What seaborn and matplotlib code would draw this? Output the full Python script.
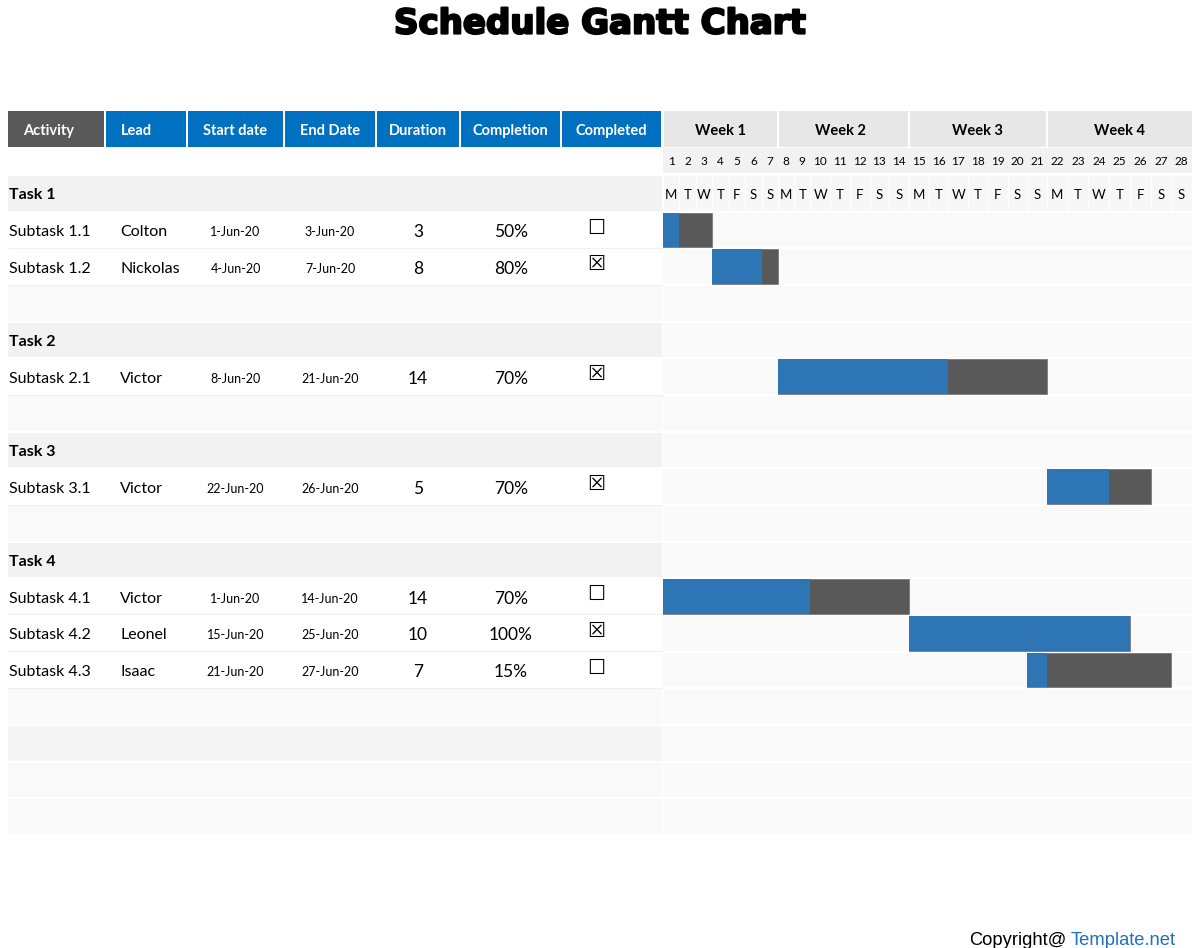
import numpy as np
import pandas as pd
import matplotlib
matplotlib.use("Agg")
import matplotlib.pyplot as plt
import matplotlib.patheffects as pe
from matplotlib.patches import Rectangle
import seaborn as sns

# ---------------- data ----------------
title = "Schedule Gantt Chart"
headers = ["Activity", "Lead", "Start date", "End Date", "Duration", "Completion", "Completed"]
week_labels = ["Week 1", "Week 2", "Week 3", "Week 4"]
day_numbers = list(range(1, 29))
day_letters = ["M", "T", "W", "T", "F", "S", "S"] * 4
task_names = ["Task 1", "Task 2", "Task 3", "Task 4"]
subtask_parent = [0, 0, 1, 2, 3, 3, 3]
subtask_names = ["Subtask 1.1", "Subtask 1.2", "Subtask 2.1", "Subtask 3.1",
                 "Subtask 4.1", "Subtask 4.2", "Subtask 4.3"]
leads = ["Colton", "Nickolas", "Victor", "Victor", "Victor", "Leonel", "Isaac"]
start_dates = ["1-Jun-20", "4-Jun-20", "8-Jun-20", "22-Jun-20", "1-Jun-20", "15-Jun-20", "21-Jun-20"]
end_dates = ["3-Jun-20", "7-Jun-20", "21-Jun-20", "26-Jun-20", "14-Jun-20", "25-Jun-20", "27-Jun-20"]
start_day = [1, 4, 8, 22, 1, 15, 21]
end_day = [3, 7, 21, 26, 14, 25, 27]
durations = [3, 8, 14, 5, 14, 10, 7]
completion_pct = [50, 80, 70, 70, 70, 100, 15]
completed = [False, True, True, True, False, True, False]
days_done = [1, 3, 9, 3, 9, 11, 1]

df = pd.DataFrame({
    "name": subtask_names, "parent": subtask_parent, "lead": leads,
    "start_lbl": start_dates, "end_lbl": end_dates,
    "start": start_day, "end": end_day, "dur": durations,
    "pct": completion_pct, "done_flag": completed, "done_days": days_done,
})

# ---------------- style ----------------
sns.set_theme(style="white")
plt.rcParams["font.family"] = ["Lato", "DejaVu Sans"]

BLUE_HDR = "#0070c0"
GRAY_HDR = "#595959"
BAR_BLUE = "#2e75b6"
BAR_GRAY = "#595959"
TY = 2.0  # vertical text nudge (pixels)

W, H = 1200, 948
fig = plt.figure(figsize=(W / 100, H / 100), dpi=100)
bg = fig.add_axes([0, 0, 1, 1])
bg.set_xlim(0, W)
bg.set_ylim(H, 0)
bg.axis("off")

# title
bg.text(600, 24, title, ha="center", va="center", fontsize=24.5,
        fontweight="bold", family=["DejaVu Sans"], color="black",
        path_effects=[pe.withStroke(linewidth=1.6, foreground="black")])

# column layout of the left table (pixel edges)
col_edges = [(8, 104), (106, 186), (188, 283), (285, 375), (377, 459), (461, 560), (562, 661)]
HDR_Y0, HDR_Y1 = 111, 147
for i, ((x0, x1), h) in enumerate(zip(col_edges, headers)):
    bg.add_patch(Rectangle((x0, HDR_Y0), x1 - x0, HDR_Y1 - HDR_Y0,
                           color=GRAY_HDR if i == 0 else BLUE_HDR, lw=0))
    if i < 2:
        bg.text(x0 + 15, (HDR_Y0 + HDR_Y1) / 2 + TY, h, ha="left", va="center",
                color="white", fontsize=10.5, fontweight="bold")
    else:
        bg.text((x0 + x1) / 2, (HDR_Y0 + HDR_Y1) / 2 + TY, h, ha="center", va="center",
                color="white", fontsize=10.5, fontweight="bold")

# build rows
rows = []
for t, tname in enumerate(task_names):
    rows.append(("task", t))
    for idx in df.index[df["parent"] == t]:
        rows.append(("sub", idx))
    if t < len(task_names) - 1:
        rows.append(("blank", None))
N_ROWS = 18
while len(rows) < N_ROWS:
    rows.append(("blank", None))

TOP, BOTTOM = 175, 835
RH = (BOTTOM - TOP) / N_ROWS
LEFT_X0, LEFT_X1 = 8, 662
GAP = 1.0

filler_cols = ["#fafafa", "#f5f5f5", "#f9f9f9", "#f9f9f9"]
n_filler = 0
for r, (kind, ref) in enumerate(rows):
    y0 = TOP + r * RH
    yc = y0 + RH / 2 + TY
    if kind == "task":
        c = "#f2f2f2"
    elif kind == "sub":
        c = "#ffffff"
    else:
        if r >= 14:
            c = filler_cols[min(n_filler, 3)]
            n_filler += 1
        else:
            c = "#f9f9f9"
    bg.add_patch(Rectangle((LEFT_X0, y0 + GAP), LEFT_X1 - LEFT_X0, RH - 2 * GAP, color=c, lw=0, zorder=0))
    if kind == "sub":
        bg.plot([LEFT_X0, LEFT_X1], [y0 + RH - 0.5, y0 + RH - 0.5], color="#efefef", lw=0.8, zorder=1)
    if kind == "task":
        bg.text(9, yc, task_names[ref], ha="left", va="center", fontsize=11.5,
                fontweight="bold", color="black")
    elif kind == "sub":
        s = df.loc[ref]
        bg.text(9, yc, s["name"], ha="left", va="center", fontsize=11.5, color="black")
        bg.text(120, yc, s["lead"], ha="left", va="center", fontsize=11.5, color="black")
        bg.text(235.5, yc, s["start_lbl"], ha="center", va="center", fontsize=9, color="black")
        bg.text(330, yc, s["end_lbl"], ha="center", va="center", fontsize=9, color="black")
        bg.text(418, yc, str(s["dur"]), ha="center", va="center", fontsize=12.5, color="black")
        bg.text(511, yc, f"{s['pct']}%", ha="center", va="center", fontsize=12.5, color="black")
        bg.text(596, yc - 4, "\u2612" if s["done_flag"] else "\u2610", ha="center", va="center",
                fontsize=14.5, family=["DejaVu Sans"], color="black")

# ---------------- gantt axes ----------------
GX0, GX1 = 663, 1192
# pixel edges of day columns (columns are narrower for single-digit days)
px_edges = list(np.linspace(663, 778, 8))
px_edges += [778 + 16.2, 778 + 32.4]
px_edges += list(np.linspace(810.4, 909, 6))[1:]
px_edges += list(np.linspace(909, 1047, 8))[1:]
px_edges += list(np.linspace(1047, 1192, 8))[1:]
px_edges = np.array(px_edges)
day_edges = np.arange(0, 29, dtype=float)


def fwd(x):
    return np.interp(x, day_edges, px_edges)


def inv(p):
    return np.interp(p, px_edges, day_edges)


gx = fig.add_axes([GX0 / W, (H - BOTTOM) / H, (GX1 - GX0) / W, (BOTTOM - TOP) / H])
gx.set_xscale("function", functions=(fwd, inv))
gx.set_xlim(0, 28)
gx.set_ylim(N_ROWS, 0)
gx.axis("off")

g = GAP / RH
ty = TY / RH
# row backgrounds
for r in range(1, N_ROWS):
    gx.add_patch(Rectangle((0, r + g), 28, 1 - 2 * g, color="#fafafa", lw=0, zorder=0))

# header rows in gantt area (week row, day number row, day letter row)
wk_y0 = (HDR_Y0 - TOP) / RH
wk_y1 = (HDR_Y1 - TOP) / RH
dn_y0 = (148 - TOP) / RH
dn_y1 = (173 - TOP) / RH
for w, lbl in enumerate(week_labels):
    x0 = w * 7
    gx.add_patch(Rectangle((x0, wk_y0), 7, wk_y1 - wk_y0, color="#e7e7e7", lw=0, clip_on=False))
    gx.plot([x0, x0], [wk_y0, wk_y1], color="white", lw=1.5, clip_on=False, solid_capstyle="butt")
    gx.text(x0 + 3.5, (wk_y0 + wk_y1) / 2 + ty, lbl, ha="center", va="center",
            fontsize=10.5, fontweight="bold", color="black")
for d, (num, let) in enumerate(zip(day_numbers, day_letters)):
    gx.add_patch(Rectangle((d, dn_y0), 1, dn_y1 - dn_y0, color="#f2f2f2", lw=0, clip_on=False))
    gx.add_patch(Rectangle((d, g), 1, 1 - 2 * g, color="#f7f7f7", lw=0, zorder=0))
    gx.plot([d, d], [dn_y0, 1 - g], color="white", lw=1.0, clip_on=False, zorder=0.5)
    gx.text(d + 0.5, (dn_y0 + dn_y1) / 2 + ty * 0.5, str(num), ha="center", va="center",
            fontsize=8.5, color="black")
    gx.text(d + 0.5, 0.5 + ty, let, ha="center", va="center", fontsize=9.5, color="black")

# bars
row_of = {ref: r for r, (kind, ref) in enumerate(rows) if kind == "sub"}
ys = np.array([row_of[i] + 0.5 for i in df.index])
lefts = df["start"].to_numpy() - 1
spans = df["end"].to_numpy() - df["start"].to_numpy() + 1
gx.barh(ys, spans, left=lefts, height=0.95, color=BAR_GRAY, edgecolor="#7a7a7a",
        linewidth=0.6, zorder=3)
gx.barh(ys, df["done_days"].to_numpy(), left=lefts, height=0.95, color=BAR_BLUE,
        edgecolor="none", linewidth=0, zorder=4)

# copyright (partly cut off by the bottom edge, as in the original)
bg.text(1067, 932, "Copyright@", ha="right", va="top", fontsize=13.2,
        family=["Liberation Sans", "DejaVu Sans"], color="black")
bg.text(1071, 932, "Template.net", ha="left", va="top", fontsize=13.2,
        family=["Liberation Sans", "DejaVu Sans"], color="#1f6fc5")

fig.savefig("out.png", dpi=100, facecolor="white")
